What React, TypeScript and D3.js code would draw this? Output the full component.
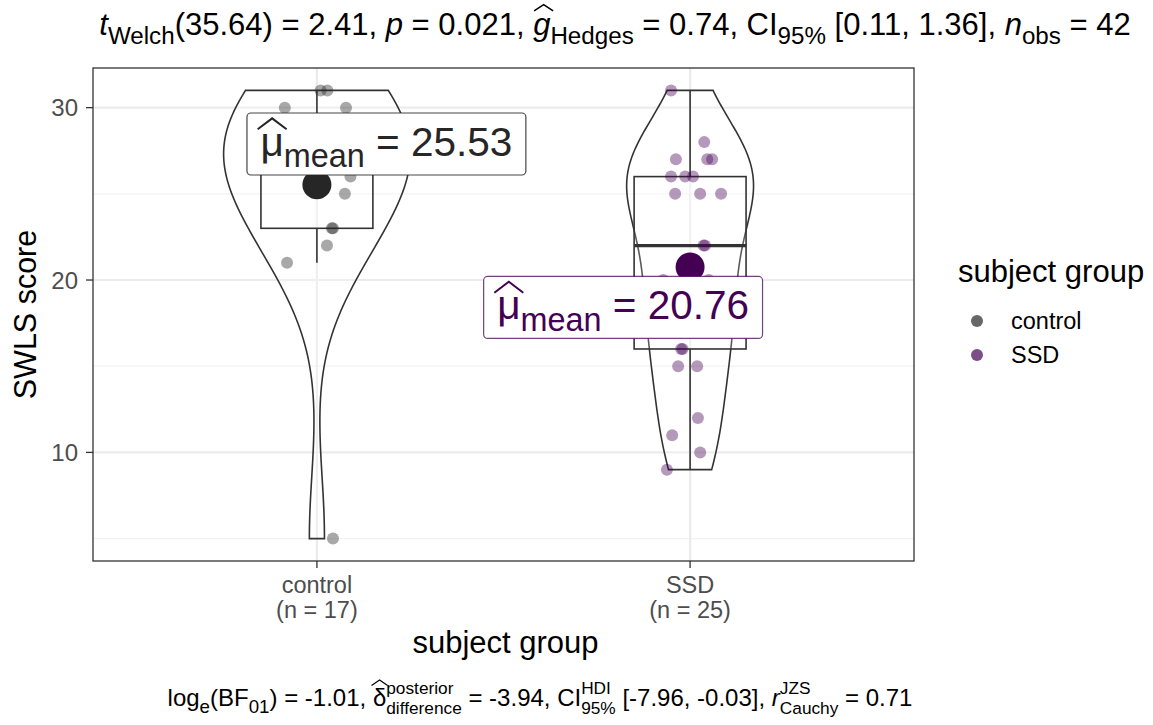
import React, { useEffect, useRef } from "react";
import * as d3 from "d3";

// ---------------- data ----------------
const categories = ["control", "SSD"];
const categoryCounts = ["(n = 17)", "(n = 25)"];
const controlScores = [31, 31, 30, 30, 29, 28, 28, 28, 27, 27, 26, 25, 23, 23, 22, 21, 5];
const controlJitter = [0.01, 0.028, -0.086, 0.078, -0.05, 0.02, 0.07, -0.075, 0.05, -0.02, 0.09, 0.075, 0.04, 0.043, 0.027, -0.08, 0.043];
const ssdScores = [31, 28, 27, 27, 27, 26, 26, 26, 25, 25, 25, 22, 22, 20, 20, 19, 19, 16, 16, 15, 15, 12, 11, 10, 9];
const ssdJitter = [-0.051, 0.038, -0.038, 0.046, 0.059, -0.051, -0.013, 0.008, -0.04, 0.027, 0.083, 0.04, 0.036, -0.072, 0.05, -0.03, 0.06, -0.02, -0.024, -0.032, 0.019, 0.021, -0.048, 0.027, -0.062];
// kernel bandwidths of the violins (null = R's bw.nrd0)
const violinBandwidths: (number | null)[] = [4.0, null];
// share of the full violin width (0.5) that each violin's widest point reaches
const violinWidthShare = [1, 0.68];
const yMajorTicks = [10, 20, 30];
const yMinorTicks = [5, 15, 25];
const groupColors = ["#262626", "#440154"];

const titleStats = { df: "35.64", t: "2.41", p: "0.021", g: "0.74", ci: "[0.11, 1.36]", n: "42" };
const captionStats = { logBF: "-1.01", delta: "-3.94", ci: "[-7.96, -0.03]", r: "0.71" };

const W = 1153;
const H = 725;
const FONT = "'Liberation Sans', Arial, Helvetica, sans-serif";

type Part = {
  text?: string;
  italic?: boolean;
  shift?: "sub" | "sup";
  hat?: [number, number];
  hatWide?: number;
  stackSup?: string;
  stackSub?: string;
  subScale?: number;
};

function drawRich(parent: any, parts: Part[], fs: number, anchor: "middle" | "start", x: number, y: number, fill: string) {
  const g = parent.append("g");
  let cx = 0;
  const subScale = 0.78;
  for (const p of parts) {
    if (p.stackSup !== undefined) {
      const s = fs * 0.72;
      const t1 = g.append("text").attr("x", cx).attr("y", -fs * 0.5).attr("font-size", s).attr("fill", fill)
        .style("white-space", "pre").text(p.stackSup);
      const t2 = g.append("text").attr("x", cx).attr("y", fs * 0.32).attr("font-size", s).attr("fill", fill)
        .style("white-space", "pre").text(p.stackSub || "");
      const w = Math.max((t1.node() as any).getComputedTextLength(), (t2.node() as any).getComputedTextLength());
      cx += w;
      continue;
    }
    const size = p.shift ? fs * (p.subScale || subScale) : fs;
    const dy = p.shift === "sub" ? fs * 0.28 : p.shift === "sup" ? -fs * 0.4 : 0;
    const t = g.append("text").attr("x", cx).attr("y", dy).attr("font-size", size).attr("fill", fill)
      .attr("font-style", p.italic ? "italic" : "normal")
      .style("white-space", "pre").text(p.text || "");
    const w = (t.node() as any).getComputedTextLength();
    if (p.hat) {
      const ext = p.hatWide ?? 0;
      const off = p.italic ? fs * 0.06 : 0;
      g.append("path")
        .attr("d", `M${cx + off - ext * w},${-p.hat[0] * fs} L${cx + off + w / 2},${-p.hat[1] * fs} L${cx + off + w * (1 + ext)},${-p.hat[0] * fs}`)
        .attr("fill", "none").attr("stroke", fill).attr("stroke-width", Math.max(1, fs * 0.05));
    }
    cx += w;
  }
  g.attr("transform", `translate(${x - (anchor === "middle" ? cx / 2 : 0)},${y})`);
  return { g, width: cx };
}

function bwNrd0(v: number[]) {
  const sorted = [...v].sort((a, b) => a - b);
  const sd = d3.deviation(sorted) as number;
  const iqr = (d3.quantile(sorted, 0.75) as number) - (d3.quantile(sorted, 0.25) as number);
  const lo = Math.min(sd, iqr / 1.34);
  return 0.9 * lo * Math.pow(v.length, -0.2);
}

function kde(v: number[], bw: number, n = 512) {
  const mn = d3.min(v) as number;
  const mx = d3.max(v) as number;
  const out: { y: number; d: number }[] = [];
  for (let i = 0; i < n; i++) {
    const y = mn + ((mx - mn) * i) / (n - 1);
    let s = 0;
    for (const x of v) {
      const z = (y - x) / bw;
      s += Math.exp(-0.5 * z * z);
    }
    out.push({ y, d: s / (v.length * bw * Math.sqrt(2 * Math.PI)) });
  }
  return out;
}

export default function App() {
  const ref = useRef<SVGSVGElement | null>(null);

  useEffect(() => {
    const svg = d3.select(ref.current);
    svg.selectAll("*").remove();
    svg.attr("font-family", FONT);

    const panel = { left: 93, right: 914, top: 68, bottom: 561 };
    const y = d3.scaleLinear().domain([3.7, 32.3]).range([panel.bottom, panel.top]);
    const x = d3.scaleLinear().domain([0.4, 2.6]).range([panel.left, panel.right]);
    const unit = x(1) - x(0);

    const groups = [
      { name: categories[0], scores: controlScores, jitter: controlJitter, color: groupColors[0] },
      { name: categories[1], scores: ssdScores, jitter: ssdJitter, color: groupColors[1] },
    ];

    svg.append("rect").attr("x", panel.left).attr("y", panel.top)
      .attr("width", panel.right - panel.left).attr("height", panel.bottom - panel.top).attr("fill", "white");
    const grid = svg.append("g");
    yMinorTicks.forEach((t) => {
      grid.append("line").attr("x1", panel.left).attr("x2", panel.right).attr("y1", y(t)).attr("y2", y(t))
        .attr("stroke", "#f2f2f2").attr("stroke-width", 1.2);
    });
    yMajorTicks.forEach((t) => {
      grid.append("line").attr("x1", panel.left).attr("x2", panel.right).attr("y1", y(t)).attr("y2", y(t))
        .attr("stroke", "#ebebeb").attr("stroke-width", 2.2);
    });
    groups.forEach((_, i) => {
      grid.append("line").attr("x1", x(i + 1)).attr("x2", x(i + 1)).attr("y1", panel.top).attr("y2", panel.bottom)
        .attr("stroke", "#ebebeb").attr("stroke-width", 2.2);
    });

    // violins (width 0.5)
    const dens = groups.map((g, i) => kde(g.scores, violinBandwidths[i] ?? bwNrd0(g.scores)));
    groups.forEach((g, i) => {
      const cxp = x(i + 1);
      const maxD = d3.max(dens[i], (d) => d.d) as number;
      const k = (violinWidthShare[i] * 0.25 * unit) / maxD;
      const area = d3.area<{ y: number; d: number }>()
        .y((d) => y(d.y))
        .x0((d) => cxp - d.d * k)
        .x1((d) => cxp + d.d * k);
      svg.append("path").attr("d", area(dens[i]) as string)
        .attr("fill", "white").attr("fill-opacity", 0.2)
        .attr("stroke", "#333333").attr("stroke-width", 1.6);
    });

    // boxplots (width 0.3)
    groups.forEach((g, i) => {
      const cxp = x(i + 1);
      const s = [...g.scores].sort((a, b) => a - b);
      const q1 = d3.quantile(s, 0.25) as number;
      const q2 = d3.quantile(s, 0.5) as number;
      const q3 = d3.quantile(s, 0.75) as number;
      const iqr = q3 - q1;
      const lo = d3.min(s.filter((v) => v >= q1 - 1.5 * iqr)) as number;
      const hi = d3.max(s.filter((v) => v <= q3 + 1.5 * iqr)) as number;
      const hw = 0.15 * unit;
      const bg = svg.append("g").attr("stroke", "#333333");
      bg.append("line").attr("x1", cxp).attr("x2", cxp).attr("y1", y(q3)).attr("y2", y(hi)).attr("stroke-width", 1.6);
      bg.append("line").attr("x1", cxp).attr("x2", cxp).attr("y1", y(q1)).attr("y2", y(lo)).attr("stroke-width", 1.6);
      bg.append("rect").attr("x", cxp - hw).attr("y", y(q3)).attr("width", 2 * hw).attr("height", y(q1) - y(q3))
        .attr("fill", "white").attr("fill-opacity", 0.2).attr("stroke-width", 1.6);
      bg.append("line").attr("x1", cxp - hw).attr("x2", cxp + hw).attr("y1", y(q2)).attr("y2", y(q2)).attr("stroke-width", 3.2);
    });

    // jittered points
    groups.forEach((g, i) => {
      g.scores.forEach((v, j) => {
        svg.append("circle").attr("cx", x(i + 1 + g.jitter[j])).attr("cy", y(v)).attr("r", 6)
          .attr("fill", g.color).attr("fill-opacity", 0.4);
      });
    });

    // means + labels
    const labelOffsets = [
      { dx: 69.5, dy: -40.7 },
      { dx: -67, dy: 40.5 },
    ];
    groups.forEach((g, i) => {
      const m = d3.mean(g.scores) as number;
      svg.append("circle").attr("cx", x(i + 1)).attr("cy", y(m)).attr("r", 14.5).attr("fill", g.color);
    });
    groups.forEach((g, i) => {
      const m = d3.mean(g.scores) as number;
      const lg = svg.append("g");
      const rect = lg.append("rect");
      const fs = 40.5;
      const { width } = drawRich(lg, [
        { text: "\u03bc", hat: [0.66, 0.93], hatWide: 0.12 },
        { text: "mean", shift: "sub", subScale: 0.8 },
        { text: " = " + m.toFixed(2) },
      ], fs, "start", 0, 0, g.color);
      const padX = 13.5;
      const wRect = width + 2 * padX;
      const hRect = 62;
      const cx0 = x(i + 1) + labelOffsets[i].dx;
      const cy0 = y(m) + labelOffsets[i].dy;
      rect.attr("x", cx0 - wRect / 2).attr("y", cy0 - hRect / 2).attr("width", wRect).attr("height", hRect)
        .attr("rx", 4).attr("fill", "white")
        .attr("stroke", g.color).attr("stroke-opacity", i === 0 ? 0.85 : 0.75).attr("stroke-width", 1.2);
      lg.select("g").attr("transform", `translate(${cx0 - wRect / 2 + padX},${cy0 + 12})`);
    });

    // panel border
    svg.append("rect").attr("x", panel.left).attr("y", panel.top)
      .attr("width", panel.right - panel.left).attr("height", panel.bottom - panel.top)
      .attr("fill", "none").attr("stroke", "#333333").attr("stroke-width", 1.3);

    // y axis
    const ya = svg.append("g");
    yMajorTicks.forEach((t) => {
      ya.append("line").attr("x1", panel.left - 7).attr("x2", panel.left).attr("y1", y(t)).attr("y2", y(t))
        .attr("stroke", "#333333").attr("stroke-width", 1.3);
      ya.append("text").attr("x", panel.left - 15).attr("y", y(t)).attr("dy", "0.36em")
        .attr("text-anchor", "end").attr("font-size", 24).attr("fill", "#4d4d4d").text(String(t));
    });
    svg.append("text").attr("transform", `translate(36,${(panel.top + panel.bottom) / 2}) rotate(-90)`)
      .attr("text-anchor", "middle").attr("font-size", 30.5).attr("fill", "black").text("SWLS score");

    // x axis
    groups.forEach((g, i) => {
      const cxp = x(i + 1);
      svg.append("line").attr("x1", cxp).attr("x2", cxp).attr("y1", panel.bottom).attr("y2", panel.bottom + 7)
        .attr("stroke", "#333333").attr("stroke-width", 1.3);
      svg.append("text").attr("x", cxp).attr("y", 593).attr("text-anchor", "middle").attr("font-size", 23.5)
        .attr("fill", "#4d4d4d").text(g.name);
      svg.append("text").attr("x", cxp).attr("y", 618).attr("text-anchor", "middle").attr("font-size", 23.5)
        .attr("fill", "#4d4d4d").text(categoryCounts[i]);
    });
    svg.append("text").attr("x", (panel.left + panel.right) / 2 + 2).attr("y", 653).attr("text-anchor", "middle")
      .attr("font-size", 31).attr("fill", "black").text("subject group");

    // legend
    svg.append("text").attr("x", 958).attr("y", 282).attr("font-size", 31).attr("fill", "black").text("subject group");
    groups.forEach((g, i) => {
      const ky = 321 + i * 34;
      svg.append("circle").attr("cx", 977).attr("cy", ky).attr("r", 6).attr("fill", g.color).attr("fill-opacity", 0.7);
      svg.append("text").attr("x", 1011).attr("y", ky).attr("dy", "0.36em").attr("font-size", 23.5)
        .attr("fill", "black").text(g.name);
    });

    // title
    drawRich(svg, [
      { text: "t", italic: true },
      { text: "Welch", shift: "sub" },
      { text: `(${titleStats.df}) = ${titleStats.t}, ` },
      { text: "p", italic: true },
      { text: ` = ${titleStats.p}, ` },
      { text: "g", italic: true, hat: [0.78, 0.98], hatWide: 0.05 },
      { text: "Hedges", shift: "sub" },
      { text: ` = ${titleStats.g}, CI` },
      { text: "95%", shift: "sub" },
      { text: ` ${titleStats.ci}, ` },
      { text: "n", italic: true },
      { text: "obs", shift: "sub" },
      { text: ` = ${titleStats.n}` },
    ], 31, "middle", 615, 35, "black");

    // caption
    drawRich(svg, [
      { text: "log" },
      { text: "e", shift: "sub" },
      { text: "(BF" },
      { text: "01", shift: "sub" },
      { text: `) = ${captionStats.logBF}, ` },
      { text: "\u03b4", hat: [0.85, 1.08], hatWide: 0.1 },
      { stackSup: "posterior", stackSub: "difference" },
      { text: ` = ${captionStats.delta}, CI` },
      { stackSup: "HDI", stackSub: "95%" },
      { text: ` ${captionStats.ci}, ` },
      { text: "r", italic: true },
      { stackSup: "JZS", stackSub: "Cauchy" },
      { text: ` = ${captionStats.r}` },
    ], 24, "middle", 540, 706, "black");
  }, []);

  return (
    <svg ref={ref} width={W} height={H} viewBox={`0 0 ${W} ${H}`} style={{ display: "block", position: "absolute", left: 0, top: 0 }} />
  );
}
